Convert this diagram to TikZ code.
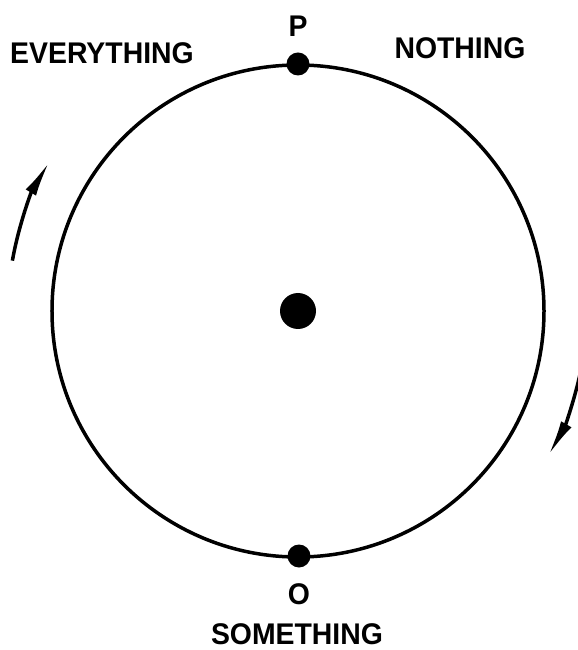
\documentclass[tikz,border=0pt]{standalone}
\usepackage{fontspec}
\setmainfont{Liberation Sans}
\usetikzlibrary{arrows.meta}

\begin{document}
\begin{tikzpicture}[x=1bp, y=1bp,
    dot/.style={circle, fill, inner sep=0pt, minimum size=#1},
    word/.style={font=\fontsize{30}{30}\selectfont\bfseries, xscale=0.95, inner sep=0pt},
    turn/.style={-{Latex[length=36bp, width=12bp]}, line width=3.5bp}]
    \useasboundingbox (-298,-339) rectangle (280,311);

    % the circle and its three points
    \draw[line width=3.5bp] (0,0) circle (246);
    \node[dot=36bp] (c) at (0,0) {};
    \node[dot=23bp] (p) at (0,247) {};
    \node[dot=23bp] (o) at (1,-245) {};

    % labels
    \node[word] (plabel) at (0,285) {P};
    \node[word] (olabel) at (1,-283) {O};
    \node[word] (something) at (-1,-323) {SOMETHING};
    \node[word] (everything) at (-196,258) {EVERYTHING};
    \node[word] (nothing) at (162,263) {NOTHING};

    % direction of travel
    \draw[turn] (170:290) arc (170:149:290);
    \draw[turn] (-11:289) arc (-11:-30:289);
\end{tikzpicture}
\end{document}
